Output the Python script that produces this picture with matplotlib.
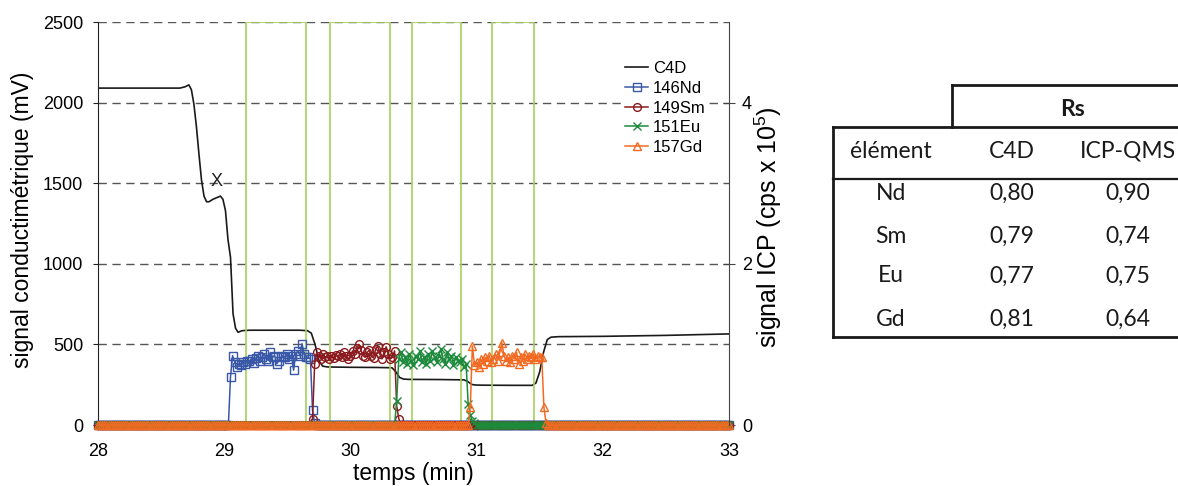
import numpy as np
import matplotlib
matplotlib.use("Agg")
import matplotlib.pyplot as plt
from matplotlib.lines import Line2D
from matplotlib.patches import Rectangle

plt.rcParams['font.family'] = ['Liberation Sans', 'DejaVu Sans']
plt.rcParams['mathtext.fontset'] = 'custom'
plt.rcParams['mathtext.rm'] = 'Liberation Sans'

# ---------------- data ----------------
# C4D conductimetric signal (mV) vs time (min)
c4d_t = [28.00, 28.50, 28.65, 28.69, 28.72, 28.74, 28.76, 28.78, 28.80, 28.82,
         28.84, 28.86, 28.88, 28.91, 28.94, 28.97, 28.99, 29.01, 29.03, 29.05,
         29.07, 29.09, 29.11, 29.14, 29.20, 29.40, 29.60, 29.66, 29.69, 29.72,
         29.75, 29.78, 29.82, 30.00, 30.20, 30.33, 30.36, 30.39, 30.42, 30.46,
         30.70, 30.90, 30.93, 30.96, 30.99, 31.05, 31.30, 31.44, 31.47, 31.50,
         31.53, 31.56, 31.59, 31.65, 32.00, 32.50, 33.00]
c4d_mv = [2090, 2090, 2090, 2098, 2110, 2080, 1990, 1850, 1680, 1520,
          1420, 1385, 1385, 1400, 1410, 1420, 1400, 1330, 1150, 1040,
          690, 600, 575, 585, 588, 588, 588, 585, 570, 500,
          400, 365, 360, 358, 357, 355, 330, 295, 285, 283,
          282, 280, 270, 252, 248, 247, 246, 246, 260, 330,
          450, 530, 545, 548, 550, 556, 565]

# ICP-QMS sampling grid (min) : one point per second
icp_t0, icp_t1, icp_points_per_min = 28.0, 33.0, 60

# ICP signals (x 1e5 cps), non-zero part of each peak and its first time
nd_start = 29.05
nd_vals = [0.60, 0.86, 0.78, 0.72, 0.76, 0.74, 0.78, 0.76, 0.80, 0.79,
           0.82, 0.77, 0.83, 0.86, 0.80, 0.84, 0.88, 0.82, 0.80, 0.90,
           0.84, 0.86, 0.76, 0.80, 0.84, 0.86, 0.84, 0.88, 0.82, 0.86,
           0.68, 0.88, 0.92, 0.86, 1.01, 0.88, 0.84, 0.84, 0.82, 0.18,
           0.02]
sm_start = 29.70
sm_vals = [0.08, 0.76, 0.90, 0.86, 0.82, 0.88, 0.84, 0.86, 0.82, 0.85,
           0.83, 0.87, 0.85, 0.88, 0.84, 0.90, 0.86, 0.82, 0.85, 0.92,
           0.88, 0.95, 1.00, 0.93, 0.86, 0.84, 0.90, 0.93, 0.86, 0.83,
           0.94, 0.98, 0.88, 0.82, 0.90, 0.97, 0.88, 0.82, 0.84, 0.92,
           0.24, 0.08]
eu_start = 30.3667
eu_vals = [0.30, 0.82, 0.90, 0.78, 0.84, 0.76, 0.88, 0.80, 0.74, 0.86,
           0.82, 0.92, 0.78, 0.84, 0.76, 0.88, 0.80, 0.92, 0.84, 0.78,
           0.86, 0.94, 0.82, 0.76, 0.90, 0.82, 0.86, 0.74, 0.84, 0.80,
           0.78, 0.82, 0.72, 0.76, 0.26, 0.12, 0.05, 0.02]
gd_start = 30.95
gd_vals = [0.22, 0.98, 0.74, 0.78, 0.72, 0.82, 0.76, 0.84, 0.80, 0.86,
           0.78, 0.82, 0.88, 0.80, 0.90, 1.02, 0.86, 0.80, 0.84, 0.78,
           0.86, 0.82, 0.90, 0.76, 0.84, 0.80, 0.88, 0.82, 0.86, 0.84,
           0.88, 0.82, 0.86, 0.84, 0.84, 0.22, 0.03]

series_names = ['146Nd', '149Sm', '151Eu', '157Gd']
series_colors = ['#3a58a8', '#8b1a1e', '#1d8a3c', '#f26a22']
series_markers = ['s', 'o', 'x', '^']

# collection windows (min)
window_start = [29.17, 29.84, 30.485, 31.12]
window_end = [29.65, 30.31, 30.876, 31.457]
window_top = 2500

# resolution table
table_elements = ['Nd', 'Sm', 'Eu', 'Gd']
rs_c4d = [0.80, 0.79, 0.77, 0.81]
rs_icp = [0.90, 0.74, 0.75, 0.64]

# ---------------- build ICP series ----------------
n_pts = int(round((icp_t1 - icp_t0) * icp_points_per_min)) + 1
icp_t = icp_t0 + np.arange(n_pts) / icp_points_per_min


def build(start, vals):
    y = np.zeros(n_pts)
    i0 = int(round((start - icp_t0) * icp_points_per_min))
    y[i0:i0 + len(vals)] = vals
    return y


icp_series = [build(nd_start, nd_vals), build(sm_start, sm_vals),
              build(eu_start, eu_vals), build(gd_start, gd_vals)]

# ---------------- figure ----------------
W, H = 1178, 486
fig = plt.figure(figsize=(W / 100, H / 100), dpi=100)


def fx(x):
    return x / W


def fy(y):
    return 1 - y / H


ax = fig.add_axes([fx(98), fy(425), fx(729) - fx(98), fy(22) - fy(425)])
ax2 = ax.twinx()

ax.set_xlim(28, 33)
ax.set_ylim(0, 2500)
ax2.set_ylim(0, 5)

ax.set_yticks([0, 500, 1000, 1500, 2000, 2500])
ax.set_xticks([28, 29, 30, 31, 32, 33])
ax2.set_yticks([0, 2, 4])

ax.yaxis.grid(True, linestyle=(0, (6, 4)), color='#555555', lw=1.0)
ax.set_axisbelow(True)

for s in ['top', 'right']:
    ax.spines[s].set_visible(False)
for s in ['top', 'left', 'bottom']:
    ax2.spines[s].set_visible(False)
ax.spines['left'].set_color('#222222')
ax.spines['bottom'].set_color('#222222')
ax2.spines['right'].set_color('#444444')

ax.tick_params(axis='y', direction='out', length=3.6, labelsize=13, pad=7, color='#222222')
ax.tick_params(axis='x', direction='out', length=3.6, labelsize=13, pad=9.5, color='#222222')
ax2.tick_params(axis='y', direction='inout', length=8.6, labelsize=13, pad=5, color='#444444')

# C4D
c4d_line, = ax.plot(c4d_t, c4d_mv, color='#1a1a1a', lw=1.2, zorder=2, label='C4D')

# collection windows
for a, b in zip(window_start, window_end):
    ax.add_patch(Rectangle((a, 0), b - a, window_top, fill=False,
                           edgecolor='#a6cf5c', lw=1.2, zorder=3))

ax.text(28.94, 1512, 'X', ha='center', va='center', fontsize=13, color='#222222')

# ICP signals
icp_lines = []
for y, name, col, mk in zip(icp_series, series_names, series_colors, series_markers):
    ms = 6.2 if mk == 'x' else 5.6
    ln, = ax2.plot(icp_t, y, color=col, lw=1.1, marker=mk, ms=ms,
                   mfc='none', mec=col, mew=1.0, label=name, clip_on=False)
    icp_lines.append(ln)

ax.set_xlabel('temps (min)', fontsize=16.5)
ax.xaxis.set_label_coords(0.5, -0.093)
ax.set_ylabel('signal conductimétrique (mV)', fontsize=16.5)
ax.yaxis.set_label_coords(-0.102, 0.51)
ax2.set_ylabel(r'signal ICP (cps x 10$\mathregular{^5}$)', fontsize=18)
ax2.yaxis.set_label_coords(1.037, 0.49)

leg = ax2.legend(handles=[c4d_line] + icp_lines, loc='upper left',
                 bbox_to_anchor=(fx(621.5), fy(58)), bbox_transform=fig.transFigure,
                 frameon=True, fancybox=False, facecolor='white', edgecolor='none',
                 framealpha=1.0, fontsize=12, handlelength=1.4, handletextpad=0.3,
                 labelspacing=0.28, borderpad=0.2, borderaxespad=0)

# ---------------- table ----------------
tfont = dict(family=['Lato', 'DejaVu Sans'], fontsize=16.5, color='#1a1a1a')


def hline(x0, x1, y, lw=2.0):
    fig.add_artist(Line2D([fx(x0), fx(x1)], [fy(y), fy(y)], color='#1a1a1a', lw=lw))


def vline(x, y0, y1, lw=2.0):
    fig.add_artist(Line2D([fx(x), fx(x)], [fy(y0), fy(y1)], color='#1a1a1a', lw=lw))


hline(952, 1178, 85.5)
vline(952, 85.5, 127)
hline(833, 1178, 127)
vline(833, 127, 337)
hline(833, 1178, 178.5, lw=1.6)
hline(833, 1178, 336.5)

col_x = [891, 1012, 1128]
fig.text(fx(1072), fy(110), 'Rs', ha='center', va='center', fontweight='bold', **tfont)
for x, txt in zip(col_x, ['élément', 'C4D', 'ICP-QMS']):
    fig.text(fx(x), fy(151), txt, ha='center', va='center', **tfont)
row_y = [193, 236, 276, 319]
for yy, el, c, i in zip(row_y, table_elements, rs_c4d, rs_icp):
    fig.text(fx(col_x[0]), fy(yy), el, ha='center', va='center', **tfont)
    fig.text(fx(col_x[1]), fy(yy), f'{c:.2f}'.replace('.', ','), ha='center', va='center', **tfont)
    fig.text(fx(col_x[2]), fy(yy), f'{i:.2f}'.replace('.', ','), ha='center', va='center', **tfont)

fig.savefig('out.png', dpi=100)
